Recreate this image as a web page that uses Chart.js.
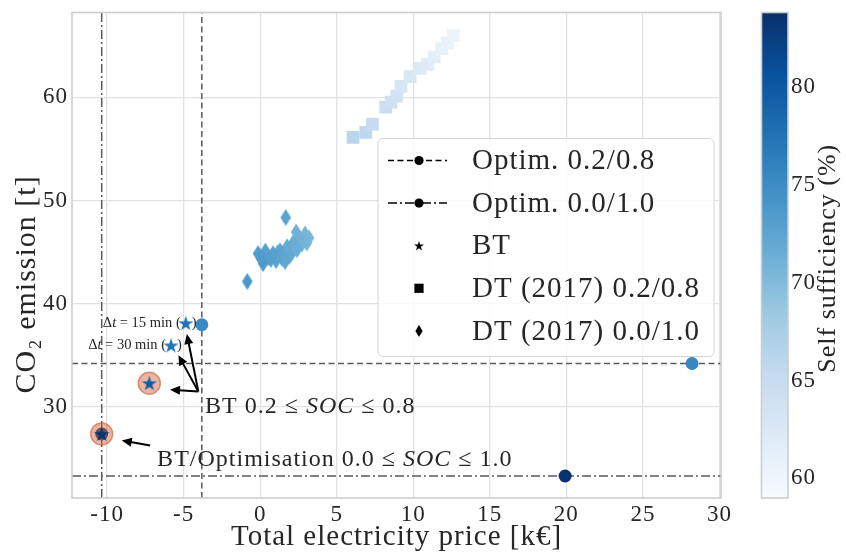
<!DOCTYPE html>
<html>
<head>
<meta charset="utf-8">
<title>CO2 emission vs total electricity price</title>
<script src="https://cdn.jsdelivr.net/npm/chart.js@4.4.1/dist/chart.umd.min.js"></script>
<style>
  html, body { margin: 0; padding: 0; background: #ffffff; }
  canvas { display: block; }
</style>
</head>
<body>
<canvas id="chart" width="846" height="557"></canvas>
<script>
// ---- Data: total electricity price [k€], CO2 emission [t], self sufficiency [%] ----
const optim0208Price = [-3.81, 28.21];
const optim0208Co2   = [37.97, 34.22];
const optim0208Self  = [75.3, 75.6];

const optim0010Price = [-10.35, 19.92];
const optim0010Co2   = [27.40, 23.33];
const optim0010Self  = [83.4, 83.6];

const btNames     = ['Δt = 15 min', 'Δt = 30 min', 'BT 0.2/0.8', 'BT 0.0/1.0'];
const btPrice     = [-4.86, -5.82, -7.24, -10.35];
const btCo2       = [38.12, 35.97, 32.31, 27.40];
const btSelf      = [77.6, 77.4, 79.6, 83.5];
const btHighlight = [false, false, true, true];

const dt0208Price = [6.07, 6.90, 7.33, 8.20, 8.55, 8.92, 9.20, 9.79, 10.44, 10.92, 11.36, 11.86, 12.23, 12.62];
const dt0208Co2   = [56.12, 56.60, 57.40, 59.05, 59.52, 60.10, 61.05, 62.00, 62.79, 63.17, 63.90, 64.70, 65.27, 65.97];
const dt0208Self  = [66.2, 65.7, 65.2, 64.6, 64.2, 63.8, 63.3, 62.8, 62.3, 62.0, 61.5, 61.0, 60.7, 60.4];

const dt0010Price = [-0.84, 1.67, 3.19, 2.93, 3.05, 2.35, 2.74, 2.54, 2.41, 2.15, 2.02, 2.25, 1.76, 1.90, 1.63, 1.56, 1.30, 1.42, 1.04, 1.15, 0.84, 0.70, 0.52, 0.34, 0.19, -0.14, 0.05];
const dt0010Co2   = [42.16, 48.35, 46.38, 46.76, 45.90, 46.95, 45.81, 46.38, 45.24, 45.90, 44.86, 45.45, 45.52, 44.60, 44.10, 44.48, 45.14, 44.40, 44.19, 44.95, 44.86, 44.30, 44.48, 45.10, 43.90, 44.86, 44.40];
const dt0010Self  = [73.8, 72.6, 70.3, 70.5, 70.6, 71.0, 70.9, 71.0, 71.3, 71.5, 71.8, 71.5, 71.9, 72.0, 72.3, 72.2, 72.4, 72.3, 72.7, 72.5, 72.8, 72.9, 73.1, 73.0, 73.5, 73.4, 73.5];

const xTickStep = 5, yTickStep = 10, cbTickStep = 5;
const X_MIN = -12.29, X_MAX = 30.1;
const Y_MIN = 21.2,  Y_MAX = 68.2;
const CB_MIN = 59.0, CB_MAX = 83.83;

const legendLabels = ['Optim. 0.2/0.8', 'Optim. 0.0/1.0', 'BT', 'DT (2017) 0.2/0.8', 'DT (2017) 0.0/1.0'];

// ---- Styling ----
const SERIF = "'Liberation Serif', 'Times New Roman', serif";
const LETTER_SPACING = '1px';
const TEXT = '#262626';
const GRID = '#e2e2e2';
const FRAME = '#cdcdcd';
const REF_LINE = '#5a5a5a';
const DASHED = [6, 3.5];
const DASHDOT = [9, 3, 2, 3];

// matplotlib "Blues" colour map
const BLUES = ['#f7fbff','#deebf7','#c6dbef','#9ecae1','#6baed6','#4292c6','#2171b5','#08519c','#08306b'];
function hexRgb(h) { return [1, 3, 5].map(i => parseInt(h.slice(i, i + 2), 16)); }
const BLUES_RGB = BLUES.map(hexRgb);
function blues(v) {
  let t = (v - CB_MIN) / (CB_MAX - CB_MIN);
  t = Math.max(0, Math.min(1, t));
  const p = t * (BLUES.length - 1);
  const i = Math.min(BLUES.length - 2, Math.floor(p));
  const f = p - i;
  const a = BLUES_RGB[i], b = BLUES_RGB[i + 1];
  const c = a.map((v0, k) => Math.round(v0 + (b[k] - v0) * f));
  return `rgb(${c[0]},${c[1]},${c[2]})`;
}

// ---- Marker sprites (filled star and thin diamond) ----
const spriteCache = {};
function starPath(g, cx, cy, R) {
  const r = R * 0.382;
  g.beginPath();
  for (let k = 0; k < 10; k++) {
    const rad = (k % 2 === 0) ? R : r;
    const ang = -Math.PI / 2 + k * Math.PI / 5;
    const px = cx + rad * Math.cos(ang), py = cy + rad * Math.sin(ang);
    if (k === 0) g.moveTo(px, py); else g.lineTo(px, py);
  }
  g.closePath();
}
function diamondPath(g, cx, cy, hw, hh) {
  g.beginPath();
  g.moveTo(cx, cy - hh); g.lineTo(cx + hw, cy); g.lineTo(cx, cy + hh); g.lineTo(cx - hw, cy);
  g.closePath();
}
function sprite(kind, color) {
  const key = kind + color;
  if (spriteCache[key]) return spriteCache[key];
  const c = document.createElement('canvas');
  const g = c.getContext('2d');
  if (kind === 'star') {
    c.width = 18; c.height = 18;
    starPath(g, 9, 9.6, 8);
  } else {
    c.width = 14; c.height = 20;
    diamondPath(g, 7, 10, 5.3, 8.6);
  }
  g.fillStyle = color;
  g.fill();
  spriteCache[key] = c;
  return c;
}

const pts = (xs, ys) => xs.map((x, i) => ({ x, y: ys[i] }));

// reference lines at the best price / lowest emission of each optimisation
const refLines = [
  { x: Math.min(...optim0208Price), dash: DASHED },
  { x: Math.min(...optim0010Price), dash: DASHDOT },
  { y: Math.min(...optim0208Co2), dash: DASHED },
  { y: Math.min(...optim0010Co2), dash: DASHDOT },
];
const refDatasets = refLines.map(l => ({
  data: l.x !== undefined ? [{ x: l.x, y: Y_MIN }, { x: l.x, y: Y_MAX }]
                          : [{ x: X_MIN, y: l.y }, { x: X_MAX, y: l.y }],
  showLine: true, pointRadius: 0, borderColor: REF_LINE, borderWidth: 1.5,
  borderDash: l.dash, order: 10,
}));

const haloIdx = btHighlight.map((h, i) => h ? i : -1).filter(i => i >= 0);

const datasets = [
  ...refDatasets,
  {
    label: 'DT (2017) 0.0/1.0', data: pts(dt0010Price, dt0010Co2), order: 9,
    pointStyle: ctx => sprite('diamond', blues(dt0010Self[ctx.dataIndex])), pointRadius: 8,
  },
  {
    label: 'DT (2017) 0.2/0.8', data: pts(dt0208Price, dt0208Co2), order: 8,
    pointStyle: 'rect', pointRadius: 9, borderWidth: 0,
    backgroundColor: dt0208Self.map(blues), borderColor: dt0208Self.map(blues),
  },
  {
    label: 'Optim. 0.2/0.8', data: pts(optim0208Price, optim0208Co2), order: 7,
    pointRadius: 6.5, borderWidth: 0,
    backgroundColor: optim0208Self.map(blues), borderColor: optim0208Self.map(blues),
  },
  {
    label: 'Optim. 0.0/1.0', data: pts(optim0010Price, optim0010Co2), order: 7,
    pointRadius: 6.5, borderWidth: 0,
    backgroundColor: optim0010Self.map(blues), borderColor: optim0010Self.map(blues),
  },
  {
    label: 'highlight', data: haloIdx.map(i => ({ x: btPrice[i], y: btCo2[i] })), order: 6,
    pointRadius: 11, backgroundColor: 'rgba(214,110,70,0.5)',
    borderColor: 'rgba(196,92,52,0.6)', borderWidth: 1.5,
  },
  {
    label: 'BT', data: pts(btPrice, btCo2), order: 5,
    pointStyle: ctx => sprite('star', blues(btSelf[ctx.dataIndex])), pointRadius: 8,
  },
];

// ---- Callouts (data units) ----
const calloutArrows = [
  { from: [-4.04, 31.52], to: [-4.79, 37.08] },
  { from: [-4.04, 31.52], to: [-5.34, 35.02] },
  { from: [-4.04, 31.52], to: [-5.89, 31.69] },
  { from: [-7.19, 26.29], to: [-9.04, 26.76] },
];
const calloutTexts = [
  { x: -3.60, y: 30.0,  size: 24, parts: [['BT 0.2 ≤ ', 'n'], ['SOC', 'i'], [' ≤ 0.8', 'n']] },
  { x: -6.73, y: 24.95, size: 24, parts: [['BT/Optimisation 0.0 ≤ ', 'n'], ['SOC', 'i'], [' ≤ 1.0', 'n']] },
];
// small labels wrapping the first two BT stars: "Δt = .. min (★)"
const starTags = [
  { idx: 0, parts: [['Δ', 'n'], ['t', 'i'], [' = 15 min (', 'n']] },
  { idx: 1, parts: [['Δ', 'n'], ['t', 'i'], [' = 30 min (', 'n']] },
];

function fontOf(style, size) { return (style === 'i' ? 'italic ' : '') + size + 'px ' + SERIF; }
function drawParts(ctx, parts, size, x, y, align) {
  let total = 0;
  const widths = parts.map(([t, s]) => { ctx.font = fontOf(s, size); const w = ctx.measureText(t).width; total += w; return w; });
  let cx = align === 'right' ? x - total : x;
  parts.forEach(([t, s], k) => { ctx.font = fontOf(s, size); ctx.fillText(t, cx, y); cx += widths[k]; });
}
function drawArrow(ctx, x0, y0, x1, y1) {
  const ang = Math.atan2(y1 - y0, x1 - x0);
  const L = 10, W = 4.5;
  ctx.beginPath();
  ctx.moveTo(x0, y0);
  ctx.lineTo(x1 - (L - 1) * Math.cos(ang), y1 - (L - 1) * Math.sin(ang));
  ctx.stroke();
  ctx.beginPath();
  ctx.moveTo(x1, y1);
  ctx.lineTo(x1 - L * Math.cos(ang) + W * Math.sin(ang), y1 - L * Math.sin(ang) - W * Math.cos(ang));
  ctx.lineTo(x1 - L * Math.cos(ang) - W * Math.sin(ang), y1 - L * Math.sin(ang) + W * Math.cos(ang));
  ctx.closePath();
  ctx.fill();
}

// the serif face runs a little narrow, so all text gets a touch of tracking
const trackingPlugin = {
  id: 'tracking',
  beforeLayout(chart) { chart.ctx.letterSpacing = LETTER_SPACING; },
  beforeDraw(chart) { chart.ctx.letterSpacing = LETTER_SPACING; },
};

const calloutPlugin = {
  id: 'callouts',
  afterDatasetsDraw(chart) {
    const { ctx, scales: { x, y } } = chart;
    ctx.save();
    ctx.strokeStyle = '#000'; ctx.fillStyle = '#000'; ctx.lineWidth = 2;
    calloutArrows.forEach(a => drawArrow(ctx,
      x.getPixelForValue(a.from[0]), y.getPixelForValue(a.from[1]),
      x.getPixelForValue(a.to[0]), y.getPixelForValue(a.to[1])));
    ctx.fillStyle = TEXT; ctx.textBaseline = 'middle'; ctx.textAlign = 'left';
    calloutTexts.forEach(t => drawParts(ctx, t.parts, t.size, x.getPixelForValue(t.x), y.getPixelForValue(t.y), 'left'));
    ctx.letterSpacing = '0px';
    starTags.forEach(t => {
      const px = x.getPixelForValue(btPrice[t.idx]), py = y.getPixelForValue(btCo2[t.idx]);
      drawParts(ctx, t.parts, 14.5, px - 5, py, 'right');
      ctx.font = fontOf('n', 14.5);
      ctx.fillText(')', px + 6, py);
    });
    ctx.restore();
  }
};

// ---- Inset legend ----
const legendPlugin = {
  id: 'insetLegend',
  afterDatasetsDraw(chart) {
    const { ctx, chartArea: a } = chart;
    const w = 336, h = 218;
    const left = a.right - 7 - w, top = a.top + 126;
    ctx.save();
    ctx.beginPath();
    ctx.roundRect(left, top, w, h, 5);
    ctx.fillStyle = 'rgba(255,255,255,0.82)';
    ctx.fill();
    ctx.strokeStyle = '#d4d4d4'; ctx.lineWidth = 1;
    ctx.stroke();
    const hx = left + 41;
    legendLabels.forEach((label, i) => {
      const cy = top + 22 + i * 42.6;
      ctx.fillStyle = '#000'; ctx.strokeStyle = '#000';
      if (i < 2) {
        ctx.lineWidth = 1.5;
        ctx.setLineDash(i === 0 ? DASHED : DASHDOT);
        ctx.beginPath(); ctx.moveTo(left + 10, cy); ctx.lineTo(left + 69, cy); ctx.stroke();
        ctx.setLineDash([]);
        ctx.beginPath(); ctx.arc(hx, cy, 4.6, 0, Math.PI * 2); ctx.fill();
      } else if (i === 2) {
        starPath(ctx, hx, cy + 0.5, 5.2); ctx.fill();
      } else if (i === 3) {
        ctx.fillRect(hx - 4.6, cy - 4.6, 9.2, 9.2);
      } else {
        diamondPath(ctx, hx, cy, 3.6, 6); ctx.fill();
      }
      ctx.fillStyle = TEXT;
      ctx.font = '29px ' + SERIF;
      ctx.textBaseline = 'middle'; ctx.textAlign = 'left';
      ctx.fillText(label, left + 94, cy + 1);
    });
    ctx.restore();
  }
};

// ---- Plot frame, y title and colour bar ----
const framePlugin = {
  id: 'frameAndColorbar',
  afterDraw(chart) {
    const { ctx, chartArea: a } = chart;
    const cb = chart.scales.cb;
    ctx.save();
    ctx.strokeStyle = FRAME; ctx.lineWidth = 1.6;
    ctx.strokeRect(a.left, a.top, a.right - a.left, a.bottom - a.top);

    // y axis title, sitting a little below the axis centre
    ctx.save();
    ctx.translate(27, a.top + (a.bottom - a.top) * 0.56);
    ctx.rotate(-Math.PI / 2);
    ctx.fillStyle = TEXT;
    ctx.font = '30px ' + SERIF;
    ctx.textAlign = 'center'; ctx.textBaseline = 'middle';
    ctx.fillText('CO₂ emission [t]', 0, 0);
    ctx.restore();

    const bx = cb.left + 40.5, bw = 26.5;
    const grad = ctx.createLinearGradient(0, cb.bottom, 0, cb.top);
    BLUES.forEach((c, k) => grad.addColorStop(k / (BLUES.length - 1), c));
    ctx.fillStyle = grad;
    ctx.fillRect(bx, cb.top, bw, cb.bottom - cb.top);
    ctx.strokeStyle = FRAME; ctx.lineWidth = 1.6;
    ctx.strokeRect(bx, cb.top, bw, cb.bottom - cb.top);

    ctx.translate(cb.left + 107, (cb.top + cb.bottom) / 2 + 3);
    ctx.rotate(-Math.PI / 2);
    ctx.fillStyle = TEXT;
    ctx.font = '26px ' + SERIF;
    ctx.textAlign = 'center'; ctx.textBaseline = 'middle';
    ctx.fillText('Self sufficiency (%)', 0, 0);
    ctx.restore();
  }
};

// fixed axis boxes; no extra room for end labels
const fixSize = (w, h) => s => {
  if (w !== null) s.width = w;
  if (h !== null) s.height = h;
  s.paddingTop = 0; s.paddingBottom = 0; s.paddingLeft = 0; s.paddingRight = 0;
};

Chart.defaults.font.family = SERIF;
Chart.defaults.color = TEXT;

new Chart(document.getElementById('chart'), {
  type: 'scatter',
  data: { datasets },
  options: {
    responsive: false,
    animation: false,
    events: [],
    layout: { padding: { top: 5, left: 0, right: 0, bottom: 0 } },
    plugins: { legend: { display: false }, tooltip: { enabled: false } },
    scales: {
      x: {
        type: 'linear', position: 'bottom', min: X_MIN, max: X_MAX,
        afterFit: fixSize(null, 59),
        ticks: { stepSize: xTickStep, includeBounds: false, padding: 3, font: { size: 23 }, color: TEXT },
        grid: { color: GRID, lineWidth: 1.3, drawTicks: false },
        border: { display: false },
        title: { display: true, text: 'Total electricity price [k€]', font: { size: 29 }, color: TEXT, padding: { top: 0, bottom: 2 } },
      },
      y: {
        type: 'linear', position: 'left', min: Y_MIN, max: Y_MAX,
        afterFit: fixSize(72, null),
        ticks: { stepSize: yTickStep, includeBounds: false, padding: 4, font: { size: 23 }, color: TEXT },
        grid: { color: GRID, lineWidth: 1.3, drawTicks: false },
        border: { display: false },
        title: { display: false },
      },
      cb: {
        type: 'linear', position: 'right', min: CB_MIN, max: CB_MAX,
        afterFit: fixSize(125, null),
        ticks: { stepSize: cbTickStep, includeBounds: false, padding: 70, font: { size: 23 }, color: TEXT },
        grid: { display: false, drawTicks: false },
        border: { display: false },
      },
    },
  },
  plugins: [trackingPlugin, calloutPlugin, legendPlugin, framePlugin],
});
</script>
</body>
</html>
